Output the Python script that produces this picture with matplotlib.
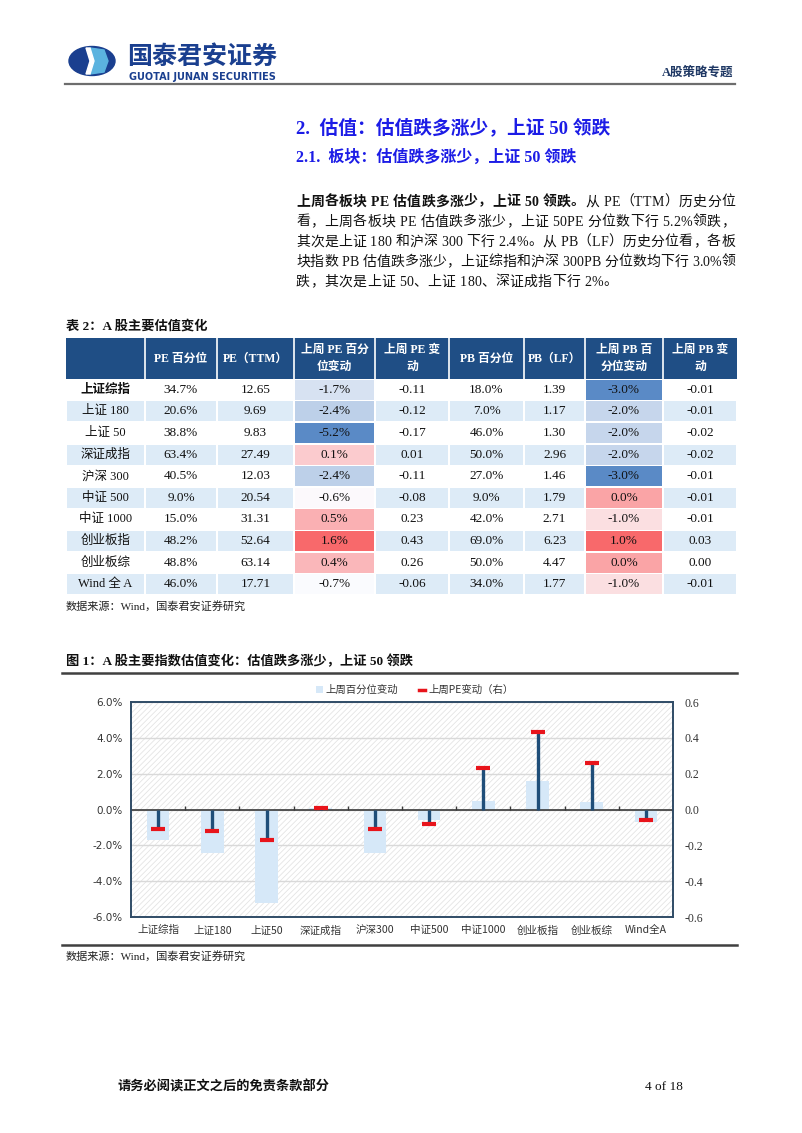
import matplotlib
matplotlib.use('Agg')
import matplotlib.pyplot as plt
import numpy as np
from matplotlib.patches import Rectangle, Ellipse, Polygon, Patch
from matplotlib.colors import LinearSegmentedColormap, TwoSlopeNorm
from matplotlib.lines import Line2D

# ---------------- data ----------------
table_rows = ['上证综指', '上证 180', '上证 50', '深证成指', '沪深 300',
              '中证 500', '中证 1000', '创业板指', '创业板综', 'Wind 全 A']
chart_cats = ['上证综指', '上证180', '上证50', '深证成指', '沪深300',
              '中证500', '中证1000', '创业板指', '创业板综', 'Wind全A']
pe_pct = [34.7, 20.6, 38.8, 63.4, 40.5, 9.0, 15.0, 48.2, 48.8, 46.0]
pe_ttm = [12.65, 9.69, 9.83, 27.49, 12.03, 20.54, 31.31, 52.64, 63.14, 17.71]
pe_pct_chg = [-1.7, -2.4, -5.2, 0.1, -2.4, -0.6, 0.5, 1.6, 0.4, -0.7]
pe_chg = [-0.11, -0.12, -0.17, 0.01, -0.11, -0.08, 0.23, 0.43, 0.26, -0.06]
pb_pct = [18.0, 7.0, 46.0, 50.0, 27.0, 9.0, 42.0, 69.0, 50.0, 34.0]
pb_lf = [1.39, 1.17, 1.30, 2.96, 1.46, 1.79, 2.71, 6.23, 4.47, 1.77]
pb_pct_chg = [-3.0, -2.0, -2.0, -2.0, -3.0, 0.0, -1.0, 1.0, 0.0, -1.0]
pb_chg = [-0.01, -0.01, -0.02, -0.02, -0.01, -0.01, -0.01, 0.03, 0.00, -0.01]
headers = ['', 'PE 百分位', 'PE（TTM）', '上周 PE 百分\n位变动', '上周 PE 变\n动',
           'PB 百分位', 'PB（LF）', '上周 PB 百\n分位变动', '上周 PB 变\n动']
left_ticks = [-6, -4, -2, 0, 2, 4, 6]
right_ticks = [-0.6, -0.4, -0.2, 0.0, 0.2, 0.4, 0.6]

CJK = ['Noto Sans CJK SC', 'DejaVu Sans']
SERIF = ['Liberation Serif', 'Noto Sans CJK SC']
plt.rcParams['font.family'] = CJK
plt.rcParams['hatch.linewidth'] = 0.6

W, H = 802, 1133
fig = plt.figure(figsize=(W / 100, H / 100), dpi=100)
page = fig.add_axes([0, 0, 1, 1])
page.set_xlim(0, W)
page.set_ylim(H, 0)
page.axis('off')

NAVY = '#1a3f8f'
BLUE_H = '#1c1ce6'

# ---------------- header ----------------
page.add_patch(Ellipse((92, 61), 46, 29, color=NAVY))
page.add_patch(Polygon([(90, 48), (104, 50), (108, 61), (104, 72), (90, 74), (94, 61)],
                       closed=True, color='#5bb3df'))
page.add_patch(Polygon([(86, 48), (90, 48), (94, 61), (90, 74), (86, 74), (90, 61)],
                       closed=True, color='white'))
page.text(127, 57, '国泰君安证券', fontsize=18, fontweight='bold', color=NAVY,
          va='center', ha='left')
page.text(129, 76.5, 'GUOTAI JUNAN SECURITIES', fontsize=7.0, fontweight='bold',
          color=NAVY, va='center', ha='left', family='DejaVu Sans')
page.plot([65, 735], [84, 84], color='#6d6d6d', lw=1.6)
page.text(733, 73, 'A股策略专题', fontsize=9, fontweight='bold', color='#1f3864',
          ha='right', va='center', family=SERIF)

# ---------------- headings & paragraph ----------------
page.text(296, 128, '2.  估值：估值跌多涨少，上证 50 领跌', fontsize=13.5,
          fontweight='bold', color=BLUE_H, va='center', family=SERIF)
page.text(296, 158, '2.1.  板块：估值跌多涨少，上证 50 领跌', fontsize=11.5,
          fontweight='bold', color=BLUE_H, va='center', family=SERIF)

fig.canvas.draw()
renderer = fig.canvas.get_renderer()

para_lines = [
    [('上周各板块 PE 估值跌多涨少，上证 50 领跌。', 'bold'), ('从 PE（TTM）历史分位', 'normal')],
    [('看，上周各板块 PE 估值跌多涨少，上证 50PE 分位数下行 5.2%领跌，', 'normal')],
    [('其次是上证 180 和沪深 300 下行 2.4%。从 PB（LF）历史分位看，各板', 'normal')],
    [('块指数 PB 估值跌多涨少，上证综指和沪深 300PB 分位数均下行 3.0%领', 'normal')],
    [('跌，其次是上证 50、上证 180、深证成指下行 2%。', 'normal')],
]
x_left, x_right = 296, 735


def width_px(t):
    bb = t.get_window_extent(renderer)
    return bb.x1 - bb.x0


for i, parts in enumerate(para_lines):
    y = 202 + i * 20
    chars = [(c, wt) for txt, wt in parts for c in txt]
    objs = []
    widths = []
    for c, wt in chars:
        t = page.text(0, y, c, fontsize=10, fontweight=wt, color='#111111',
                      va='center', ha='left', family=SERIF)
        objs.append(t)
        widths.append(width_px(t) if c != ' ' else 3.5)
    total = sum(widths)
    justify = i < len(para_lines) - 1
    gap = (x_right - x_left - total) / (len(chars) - 1) if justify else 0.3
    x = x_left
    for t, w in zip(objs, widths):
        t.set_x(x)
        x += w + gap

# ---------------- table ----------------
page.text(66, 326, '表 2：A 股主要估值变化', fontsize=9.5, fontweight='bold',
          color='#111111', va='center', family=SERIF)
col_edges = [66, 145, 217, 294, 375, 449, 524, 585, 663, 737]
hdr_top, hdr_bot = 338, 379
row_h = 21.6
HDR = '#1f4e85'
LB = '#ddebf7'
page.add_patch(Rectangle((col_edges[0], hdr_top), col_edges[-1] - col_edges[0],
                         hdr_bot - hdr_top, color=HDR, lw=0))
for j in range(1, len(col_edges) - 1):
    page.plot([col_edges[j], col_edges[j]], [hdr_top, hdr_bot], color='white', lw=1.2)
for j, h in enumerate(headers):
    if h:
        page.text((col_edges[j] + col_edges[j + 1]) / 2, (hdr_top + hdr_bot) / 2, h,
                  fontsize=8.5, fontweight='bold', color='white', ha='center',
                  va='center', family=SERIF, linespacing=1.5)

cmap = LinearSegmentedColormap.from_list('xl3', ['#5a8ac6', '#fcfcff', '#f8696b'])
norm_pe = TwoSlopeNorm(vcenter=float(np.median(pe_pct_chg)), vmin=min(pe_pct_chg),
                       vmax=max(pe_pct_chg))
norm_pb = TwoSlopeNorm(vcenter=float(np.median(pb_pct_chg)), vmin=min(pb_pct_chg),
                       vmax=max(pb_pct_chg))

for i, name in enumerate(table_rows):
    y0 = hdr_bot + i * row_h
    yc = y0 + row_h / 2
    base = LB if i % 2 == 1 else 'white'
    vals = [f'{pe_pct[i]:.1f}%', f'{pe_ttm[i]:.2f}', f'{pe_pct_chg[i]:.1f}%',
            f'{pe_chg[i]:.2f}', f'{pb_pct[i]:.1f}%', f'{pb_lf[i]:.2f}',
            f'{pb_pct_chg[i]:.1f}%', f'{pb_chg[i]:.2f}']
    for j in range(9):
        x0, x1 = col_edges[j], col_edges[j + 1]
        if j == 3:
            fc = cmap(norm_pe(pe_pct_chg[i]))
        elif j == 7:
            fc = cmap(norm_pb(pb_pct_chg[i]))
        else:
            fc = base
        page.add_patch(Rectangle((x0 + 0.7, y0 + 0.7), x1 - x0 - 1.4, row_h - 1.4,
                                 facecolor=fc, lw=0))
        if j == 0:
            page.text((x0 + x1) / 2, yc, name, fontsize=9,
                      fontweight='bold' if i == 0 else 'normal', color='#111111',
                      ha='center', va='center', family=SERIF)
        else:
            page.text((x0 + x1) / 2, yc, vals[j - 1], fontsize=9.5, color='#111111',
                      ha='center', va='center', family=SERIF)

page.text(66, 606, '数据来源：Wind，国泰君安证券研究', fontsize=8, color='#222222',
          va='center', family=SERIF)

# ---------------- chart ----------------
page.text(66, 661, '图 1：A 股主要指数估值变化：估值跌多涨少，上证 50 领跌', fontsize=9.5,
          fontweight='bold', color='#111111', va='center', family=SERIF)
page.plot([62, 737], [673, 673], color='#404040', lw=1.8)
page.plot([62, 737], [945, 945], color='#404040', lw=1.8)
page.text(66, 956, '数据来源：Wind，国泰君安证券研究', fontsize=8, color='#222222',
          va='center', family=SERIF)

L, R, T, B = 131, 673, 702, 917
ax = fig.add_axes([L / W, 1 - B / H, (R - L) / W, (B - T) / H])
ax.set_facecolor('white')
ax.add_patch(Rectangle((0, 0), 1, 1, transform=ax.transAxes, facecolor='white',
                       edgecolor='#e4e4e4', hatch='//////', lw=0, zorder=0))
x = np.arange(len(chart_cats))
ax.set_ylim(-6, 6)
ax.set_xlim(-0.5, len(chart_cats) - 0.5)
ax.set_yticks(left_ticks)
for v in left_ticks:
    ax.axhline(v, color='#d9d9d9', lw=1.0, zorder=1)
ax.bar(x, pe_pct_chg, width=0.42, color='#d6e8f8', zorder=2)
ax.axhline(0, color='#3a3a3a', lw=1.2, zorder=3)
ax.vlines(np.arange(1, len(chart_cats)) - 0.5, 0, 0.2, color='#3a3a3a', lw=1.0, zorder=3)
ax.set_yticklabels([f'{v:.1f}%' for v in left_ticks], fontsize=7.5, color='#333333',
                   family='DejaVu Sans')
ax.set_xticks(x)
ax.set_xticklabels(chart_cats, fontsize=7.6, color='#333333')
ax.tick_params(length=0, pad=6)
for s in ax.spines.values():
    s.set_color('#2f4b66')
    s.set_linewidth(1.2)

ax2 = ax.twinx()
ax2.set_ylim(-0.6, 0.6)
ax2.set_yticks(right_ticks)
ax2.set_yticklabels([f'{v:.1f}' for v in right_ticks], fontsize=8.5, color='#333333',
                    family=SERIF)
ax2.tick_params(length=0, pad=8)
ax2.vlines(x, 0, pe_chg, color='#1f4e79', lw=2.4, zorder=4)
ax2.plot(x, pe_chg, linestyle='none', marker='_', ms=10, mew=3, color='#e8141b', zorder=5)
for s in ax2.spines.values():
    s.set_color('#2f4b66')
    s.set_linewidth(1.2)

handles = [Patch(facecolor='#d6e8f8', edgecolor='none'),
           Line2D([0], [0], color='#e8141b', lw=2.5)]
fig.legend(handles, ['上周百分位变动', '上周PE变动（右）'], loc='center',
           bbox_to_anchor=(415 / W, 1 - 690 / H), ncol=2, frameon=False,
           fontsize=7.5, handlelength=0.6, handleheight=0.6, columnspacing=2.0,
           handletextpad=0.3, labelcolor='#333333')

# ---------------- footer ----------------
page.text(117, 1087, '请务必阅读正文之后的免责条款部分', fontsize=9.5, fontweight='bold',
          color='#111111', va='center', family=SERIF)
page.text(683, 1087, '4 of 18', fontsize=9.5, color='#111111', ha='right',
          va='center', family=SERIF)

fig.savefig('out.png', dpi=100)
